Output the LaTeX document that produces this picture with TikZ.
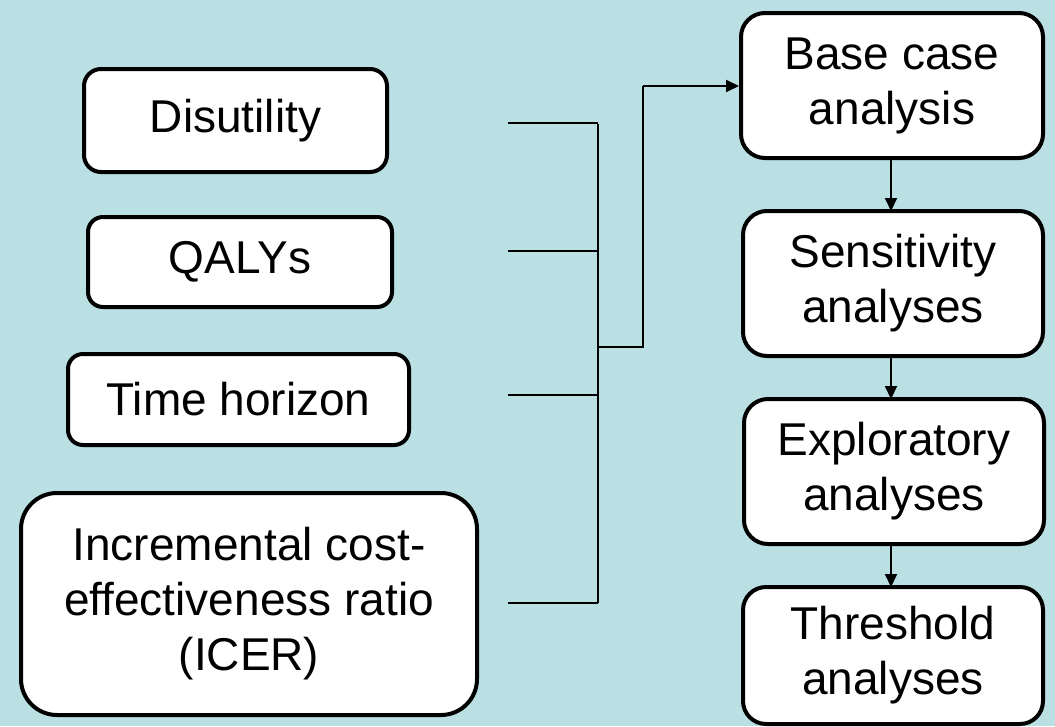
\documentclass[tikz,border=0pt]{standalone}
\usepackage{fontspec}
\setmainfont{Liberation Sans}
\usetikzlibrary{arrows.meta}
\definecolor{bgblue}{RGB}{186,224,227}
\tikzset{
  box/.style={draw=black, fill=white, line width=4pt, inner sep=0pt, align=center,
    font=\fontsize{46}{55}\selectfont, rectangle},
  conn/.style={draw=black, line width=2pt},
  arr/.style={conn, -{Triangle[length=13pt,width=12pt]}},
}
\begin{document}
\begin{tikzpicture}[x=1pt,y=-1pt]
\fill[bgblue] (0,0) rectangle (1055,726);
\useasboundingbox (0,0) rectangle (1055,726);
% left boxes
\node[box, rounded corners=17pt, minimum width=303pt, minimum height=103pt] (dis) at (235.5,120.5) {Disutility};
\node[box, rounded corners=15pt, minimum width=304pt, minimum height=90pt] (qaly) at (240,262) {QALYs};
\node[box, rounded corners=15pt, minimum width=341pt, minimum height=91pt] (time) at (238.5,399.5) {Time horizon};
\node[box, rounded corners=36pt, minimum width=456pt, minimum height=222pt] (icer) at (249,604) {Incremental cost-\\effectiveness ratio\\(ICER)};
% right boxes
\node[box, rounded corners=24pt, minimum width=302pt, minimum height=145pt] (base) at (892,85.5) {Base case\\analysis};
\node[box, rounded corners=24pt, minimum width=300pt, minimum height=145pt] (sens) at (893,283.5) {Sensitivity\\analyses};
\node[box, rounded corners=24pt, minimum width=300pt, minimum height=145pt] (expl) at (894,471.5) {Exploratory\\analyses};
\node[box, rounded corners=23pt, minimum width=300pt, minimum height=137pt] (thr) at (893,655.5) {Threshold\\analyses};
% bracket connector
\coordinate (l1) at (508,123);
\coordinate (l2) at (508,251);
\coordinate (l3) at (508,395);
\coordinate (l4) at (508,603);
\coordinate (v1) at (598,123);
\coordinate (v2) at (598,251);
\coordinate (v3) at (598,395);
\coordinate (v4) at (598,603);
\coordinate (jm) at (598,347);
\coordinate (jr) at (643,347);
\coordinate (jt) at (643,86);
\draw[conn] (l1) -- (v1);
\draw[conn] (l2) -- (v2);
\draw[conn] (l3) -- (v3);
\draw[conn] (l4) -- (v4);
\draw[conn] (598,124) -- (v4);
\draw[conn] (jm) -- (jr) -- (jt);
\draw[arr] (jt) -- (jt -| base.west);
% vertical arrows
\draw[arr] (891,158) -- (891,211);
\draw[arr] (891,356) -- (891,399);
\draw[arr] (891,544) -- (891,587);
\end{tikzpicture}
\end{document}
